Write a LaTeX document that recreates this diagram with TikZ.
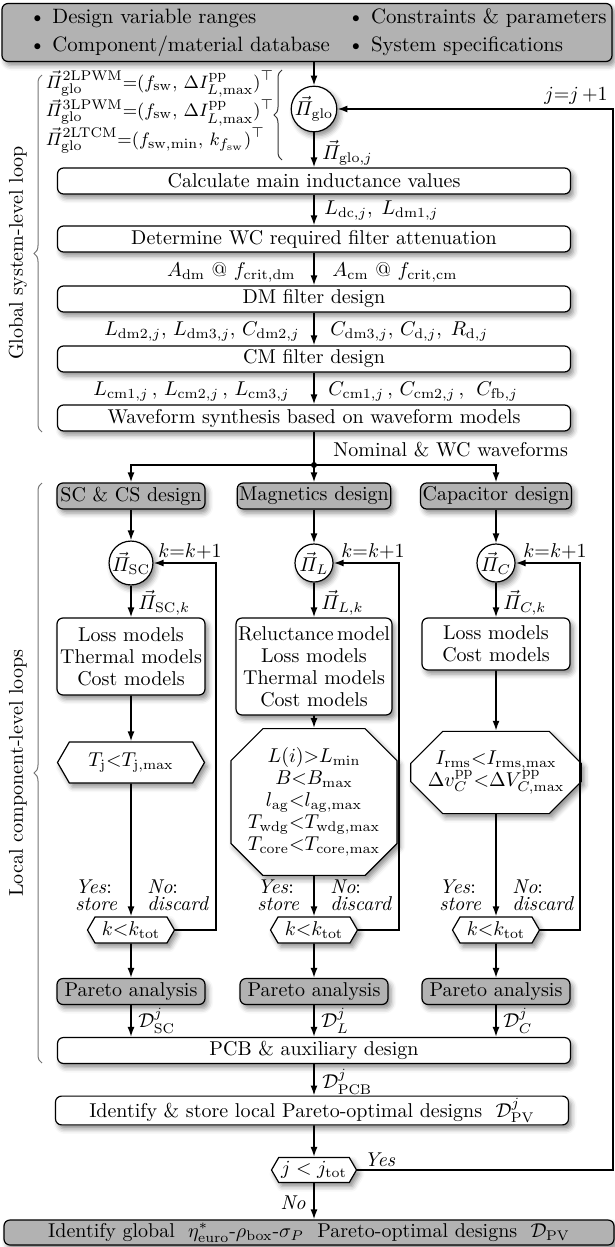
\documentclass[tikz,border=0pt]{standalone}
\usepackage{amsmath,amssymb}
\usetikzlibrary{arrows.meta,shapes.misc,shapes.symbols,decorations.pathreplacing,shadows.blur}

\tikzset{
  softshadow/.style={blur shadow={shadow xshift=1.5pt, shadow yshift=-2pt, shadow blur radius=2.5pt, shadow opacity=45}},
  box/.style={draw, rounded corners=3pt, fill=white, line width=0.6pt, minimum height=13pt, inner sep=1pt, softshadow},
  widebox/.style={box, minimum width=256.5pt},
  colbox/.style={box, minimum width=74pt, align=center},
  headbox/.style={colbox, fill=black!30},
  loopnode/.style={circle, draw, fill=white, line width=0.6pt, inner sep=0pt, minimum size=19pt, softshadow},
  hexbox/.style={signal, signal to=west and east, signal pointer angle=120, draw, fill=white, line width=0.6pt, inner sep=1pt, softshadow},
  octbox/.style={chamfered rectangle, chamfered rectangle xsep=7.5pt, chamfered rectangle ysep=8.5pt, draw, fill=white, line width=0.6pt, inner sep=1pt, minimum width=73.5pt, align=center, softshadow},
  flow/.style={-{Latex[length=5pt,width=3.5pt]}, line width=0.8pt},
  lbl/.style={inner sep=1pt},
  choice/.style={inner sep=1pt, align=left, font=\fontsize{10}{8.5}\selectfont\itshape},
  gbrace/.style={decorate, decoration={brace, amplitude=4pt}, black!55, line width=0.5pt}
}

\begin{document}
\begin{tikzpicture}[x=0.5pt, y=-0.5pt, font=\fontsize{10}{11}\selectfont]
\useasboundingbox (0,0) rectangle (615,1247);

% Inputs and global loop start
\node[box, fill=black!30, minimum width=305pt, minimum height=27.5pt, font=\fontsize{10.4}{13}\selectfont] (spec) at (307,32.5)
  {\hspace{11pt}\begin{tabular}{@{}l@{\hspace{9pt}}l@{}}
   \textbullet~Design variable ranges & \textbullet~Constraints \& parameters\\[1pt]
   \textbullet~Component/material database & \textbullet~System specifications
   \end{tabular}};
\node[loopnode] (piglo) at (314,109) {$\vec{\varPi}_\mathrm{glo}$};
\node[lbl, align=left, font=\fontsize{9.5}{11}\selectfont] (eqs) at (160,112)
  {$\vec{\varPi}_\mathrm{glo}^\mathrm{2LPWM}{=}(f_\mathrm{sw},\,\Delta I_{L,\mathrm{max}}^\mathrm{pp})^\top$\\
   $\vec{\varPi}_\mathrm{glo}^\mathrm{3LPWM}{=}(f_\mathrm{sw},\,\Delta I_{L,\mathrm{max}}^\mathrm{pp})^\top$\\
   $\vec{\varPi}_\mathrm{glo}^\mathrm{2LTCM}{=}(f_\mathrm{sw,min},\,k_{f_\mathrm{sw}})^\top$};
\coordinate (eqbtop) at (282,70);
\coordinate (eqbbot) at (282,160);
\draw[gbrace, black!80] (eqbbot) -- (eqbtop);
\node[lbl, anchor=west] (piglojlbl) at (320,153) {$\vec{\varPi}_{\mathrm{glo},j}$};
\node[lbl, anchor=south east] (jinc) at (610,107) {$j{=}j\,{+}1$};

% Global system-level steps
\node[widebox] (calc) at (314,181) {Calculate main inductance values};
\node[widebox] (wcatt) at (314,239) {Determine WC required filter attenuation};
\node[widebox] (dmfilt) at (314,299) {DM filter design};
\node[widebox] (cmfilt) at (314,359) {CM filter design};
\node[widebox] (wavesyn) at (314,418) {Waveform synthesis based on waveform models};

\node[lbl, anchor=west] (calclbl) at (322,211) {$L_{\mathrm{dc},j},\; L_{\mathrm{dm1},j}$};
\node[lbl, anchor=east] (attlbla) at (298,272) {$A_\mathrm{dm}$ @ $f_\mathrm{crit,dm}$};
\node[lbl, anchor=west] (attlblb) at (330,272) {$A_\mathrm{cm}$ @ $f_\mathrm{crit,cm}$};
\node[lbl, anchor=east] (dmlbla) at (302,332) {$L_{\mathrm{dm2},j},\, L_{\mathrm{dm3},j},\, C_{\mathrm{dm2},j}$};
\node[lbl, anchor=west] (dmlblb) at (328,332) {$C_{\mathrm{dm3},j},\, C_{\mathrm{d},j},\; R_{\mathrm{d},j}$};
\node[lbl, anchor=east] (cmlbla) at (292,392) {$L_{\mathrm{cm1},j}\,,\, L_{\mathrm{cm2},j}\,,\, L_{\mathrm{cm3},j}$};
\node[lbl, anchor=west] (cmlblb) at (326,392) {$C_{\mathrm{cm1},j}\,,\, C_{\mathrm{cm2},j}\,,\;\, C_{\mathrm{fb},j}$};

\draw[flow] (spec.south -| piglo) -- (piglo);
\draw[flow] (piglo) -- (calc);
\draw[flow] (calc) -- (wcatt);
\draw[flow] (wcatt) -- (dmfilt);
\draw[flow] (dmfilt) -- (cmfilt);
\draw[flow] (cmfilt) -- (wavesyn);

% Split to component designs
\coordinate (split) at (314,465);
\node[lbl, anchor=west] (wavelbl) at (331,450) {Nominal \& WC waveforms};

\node[headbox] (scdes) at (131,496) {SC \& CS design};
\node[headbox] (magdes) at (314,496) {Magnetics design};
\node[headbox] (capdes) at (496,496) {Capacitor design};

\draw[line width=0.8pt] (wavesyn) -- (split);
\fill (split) circle (1.5pt);
\draw[flow] (split) -| (scdes);
\draw[flow] (split) -- (magdes);
\draw[flow] (split) -| (capdes);

% Local component-level loops
\node[loopnode] (pisc) at (131,563) {$\vec{\varPi}_\mathrm{SC}$};
\node[loopnode] (pil) at (314,563) {$\vec{\varPi}_L$};
\node[loopnode] (pic) at (496,563) {$\vec{\varPi}_C$};

\node[lbl, anchor=west] (pisclbl) at (136,603) {$\vec{\varPi}_{\mathrm{SC},k}$};
\node[lbl, anchor=west] (pillbl) at (319,603) {$\vec{\varPi}_{L,k}$};
\node[lbl, anchor=west] (piclbl) at (501,603) {$\vec{\varPi}_{C,k}$};
\node[lbl, anchor=south west] (kincsc) at (156,562) {$k{=}k{+}1$};
\node[lbl, anchor=south west] (kincl) at (339,562) {$k{=}k{+}1$};
\node[lbl, anchor=south west] (kincc) at (521,562) {$k{=}k{+}1$};

\node[colbox, minimum height=38.5pt] (scmod) at (131,656.5) {Loss models\\Thermal models\\Cost models};
\node[colbox, minimum height=48.5pt] (magmod) at (314,666.5) {Reluctance\,model\\Loss models\\Thermal models\\Cost models};
\node[colbox, minimum height=26pt] (capmod) at (496,644) {Loss models\\Cost models};

\node[hexbox, minimum width=73.5pt, minimum height=20.5pt] (sccon) at (131,762.5) {$T_\mathrm{j}{<}T_\mathrm{j,max}$};
\node[octbox, minimum height=60pt] (magcon) at (314,802) {$L(i){>}L_\mathrm{min}$\\$B{<}B_\mathrm{max}$\\$l_\mathrm{ag}{<}l_\mathrm{ag,max}$\\$T_\mathrm{wdg}{<}T_\mathrm{wdg,max}$\\$T_\mathrm{core}{<}T_\mathrm{core,max}$};
\node[octbox, minimum height=30.5pt] (capcon) at (496,772.5) {$I_\mathrm{rms}{<}I_\mathrm{rms,max}$\\$\Delta v_C^\mathrm{pp}{<}\Delta V_{C,\mathrm{max}}^\mathrm{pp}$};

\node[choice, anchor=west] (scyes) at (73,895) {Yes\/\upshape:\\store};
\node[choice, anchor=west] (scno) at (145,895) {No\/\upshape:\\discard};
\node[choice, anchor=west] (magyes) at (255,895) {Yes\/\upshape:\\store};
\node[choice, anchor=west] (magno) at (328,895) {No\/\upshape:\\discard};
\node[choice, anchor=west] (capyes) at (437,895) {Yes\/\upshape:\\store};
\node[choice, anchor=west] (capno) at (510,895) {No\/\upshape:\\discard};

\node[hexbox, minimum width=43.5pt, minimum height=13pt] (sck) at (131,930) {$k{<}k_\mathrm{tot}$};
\node[hexbox, minimum width=43.5pt, minimum height=13pt] (magk) at (314,930) {$k{<}k_\mathrm{tot}$};
\node[hexbox, minimum width=43.5pt, minimum height=13pt] (capk) at (496,930) {$k{<}k_\mathrm{tot}$};

\node[headbox] (scpar) at (131,991.5) {Pareto analysis};
\node[headbox] (magpar) at (314,991.5) {Pareto analysis};
\node[headbox] (cappar) at (496,991.5) {Pareto analysis};

\node[lbl, anchor=west] (dsclbl) at (136,1021) {$\mathcal{D}_\mathrm{SC}^j$};
\node[lbl, anchor=west] (dllbl) at (319,1021) {$\mathcal{D}_L^j$};
\node[lbl, anchor=west] (dclbl) at (501,1021) {$\mathcal{D}_C^j$};

\node[widebox] (pcb) at (314,1050.5) {PCB \& auxiliary design};

% Column flows
\draw[flow] (scdes) -- (pisc);
\draw[flow] (pisc) -- (scmod);
\draw[flow] (scmod) -- (sccon);
\draw[flow] (sccon) -- (sck);
\draw[flow] (sck) -- (scpar);
\draw[flow] (scpar) -- (scpar |- pcb.north);
\draw[flow] (sck.east) -- ++(41,0) |- (pisc.east);

\draw[flow] (magdes) -- (pil);
\draw[flow] (pil) -- (magmod);
\draw[flow] (magmod) -- (magcon);
\draw[flow] (magcon) -- (magk);
\draw[flow] (magk) -- (magpar);
\draw[flow] (magpar) -- (pcb);
\draw[flow] (magk.east) -- ++(41,0) |- (pil.east);

\draw[flow] (capdes) -- (pic);
\draw[flow] (pic) -- (capmod);
\draw[flow] (capmod) -- (capcon);
\draw[flow] (capcon) -- (capk);
\draw[flow] (capk) -- (cappar);
\draw[flow] (cappar) -- (cappar |- pcb.north);
\draw[flow] (capk.east) -- ++(40,0) |- (pic.east);

% Global optimum selection
\node[lbl, anchor=west] (dpcblbl) at (320,1082) {$\mathcal{D}_\mathrm{PCB}^j$};
\node[widebox] (locopt) at (312,1110.5) {Identify \& store local Pareto-optimal designs~~$\mathcal{D}_\mathrm{PV}^j$};
\node[hexbox, inner xsep=0pt, minimum width=42.5pt, minimum height=12.5pt] (jcheck) at (314,1170) {$j < j_\mathrm{tot}$};
\node[lbl, anchor=south west, font=\itshape] (jyes) at (362,1169) {Yes};
\node[lbl, anchor=east, font=\itshape] (jno) at (308,1203) {No};
\node[box, fill=black!30, minimum width=305pt, minimum height=12.5pt] (glopt) at (309,1232.5)
  {Identify global~~$\eta^*_\mathrm{euro}$-$\rho_\mathrm{box}$-$\sigma_P$~~Pareto-optimal designs~~$\mathcal{D}_\mathrm{PV}$};
\coordinate (jback) at (613,1170);

\draw[flow] (pcb) -- (pcb.south |- locopt.north);
\draw[flow] (locopt.south -| jcheck) -- (jcheck);
\draw[flow] (jcheck) -- (glopt.north -| jcheck);
\draw[flow] (jcheck.east) -- (jback) |- (piglo.east);

% Loop braces
\draw[gbrace] (42,432) -- (42,75);
\node[rotate=90] (globtxt) at (18,253) {Global system-level loop};
\draw[gbrace] (42,1063) -- (42,483);
\node[rotate=90] (loctxt) at (18,773) {Local component-level loops};

\end{tikzpicture}
\end{document}
